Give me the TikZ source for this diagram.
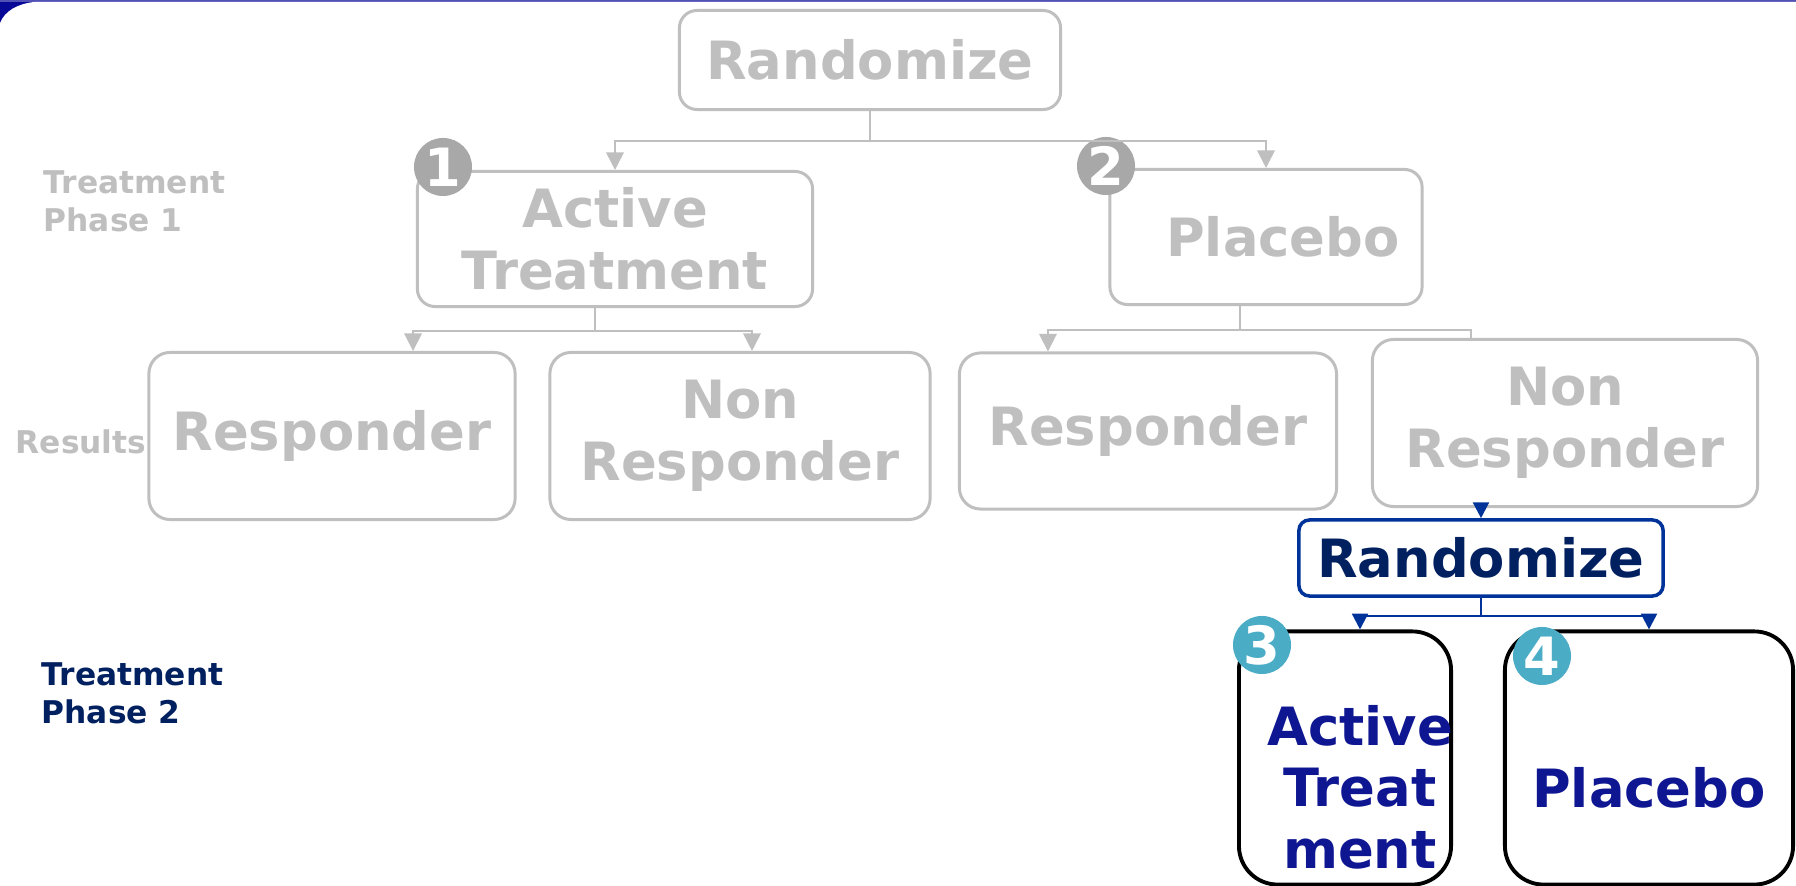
\documentclass[tikz,border=0pt]{standalone}
\usepackage{fontspec}
\setmainfont{DejaVu Sans}
\usetikzlibrary{arrows.meta}
\definecolor{lgray}{RGB}{191,191,191}
\definecolor{dgray}{RGB}{168,168,168}
\definecolor{teal}{RGB}{75,172,198}
\definecolor{navy}{RGB}{0,32,96}
\definecolor{rblue}{RGB}{0,51,153}
\definecolor{tblue}{RGB}{14,22,146}
\definecolor{framecol}{RGB}{8,8,150}
\newcommand{\boxfont}{\fontsize{15}{17.5}\selectfont\bfseries}
\newcommand{\sidefont}{\fontsize{8.9}{10.8}\selectfont\bfseries}
\newcommand{\numfont}{\fontsize{15}{15}\selectfont\bfseries}
\begin{document}
\begin{tikzpicture}[x=0.01cm, y=-0.01cm,
    graybox/.style={draw=lgray, line width=0.85pt, rounded corners=5pt, text=lgray, font=\boxfont, align=center, inner sep=0pt},
    bluebox/.style={draw=rblue, line width=1pt, rounded corners=3pt, text=navy, font=\boxfont, inner sep=0pt},
    blackbox/.style={draw=black, line width=1.1pt, rounded corners=11pt, inner sep=0pt},
    boxtext/.style={text=tblue, font=\boxfont, align=center, inner sep=0pt},
    num/.style={circle, fill=#1, text=white, font=\numfont, minimum size=0.58cm, inner sep=0pt},
    side/.style={font=\sidefont, align=left, anchor=west, inner sep=0pt},
    garrow/.style={draw=lgray, line width=0.5pt, -{Triangle[width=5pt,length=5pt]}},
    gline/.style={draw=lgray, line width=0.5pt},
    barrow/.style={draw=rblue, line width=0.7pt, -{Triangle[width=4.5pt,length=4.5pt]}}]
    \useasboundingbox (0,0) rectangle (1796,886);
    \clip (0,0) rectangle (1796,886);
    \fill[framecol] (0,0) rectangle (80,80);
    \fill[framecol!70] (0,0) rectangle (1796,2);
    \fill[white] (0,23) .. controls (5,11) and (17,4) .. (34,2)
        -- (1796,2) -- (1796,886) -- (0,886) -- cycle;

    \node[graybox, minimum width=3.81cm, minimum height=0.99cm] (R0) at (870,60) {Randomize};
    \node[graybox, minimum width=3.95cm, minimum height=1.35cm] (A1) at (615,239) {Active\\Treatment};
    \node[graybox, minimum width=3.12cm, minimum height=1.35cm] (P1) at (1266,237) {\hspace*{0.34cm}Placebo};

    \node[graybox, rounded corners=6pt, minimum width=3.66cm, minimum height=1.67cm] (AR1) at (332,436) {Responder};
    \node[graybox, rounded corners=6pt, minimum width=3.80cm, minimum height=1.67cm] (AN1) at (740,436) {Non\\Responder};
    \node[graybox, rounded corners=6pt, minimum width=3.77cm, minimum height=1.56cm] (PR1) at (1148,431) {Responder};
    \node[graybox, rounded corners=6pt, minimum width=3.85cm, minimum height=1.67cm] (PN1) at (1565,423) {Non\\Responder};

    \node[bluebox, minimum width=3.64cm, minimum height=0.76cm] (R2) at (1481,558) {Randomize};
    \node[blackbox, minimum width=2.12cm, minimum height=2.53cm] (A2) at (1345,758) {};
    \node[blackbox, minimum width=2.88cm, minimum height=2.53cm] (P2) at (1649,758) {};
    \node[boxtext] (A2t) at (1360,787) {Active\\Treat\\ment};
    \node[boxtext] (P2t) at (1649,788) {Placebo};

    \node[num=dgray] (C1) at (443,167) {1};
    \node[num=dgray] (C2) at (1106,166) {2};
    \node[num=teal] (C3) at (1262,645) {3};
    \node[num=teal] (C4) at (1542,656) {4};

    \node[side, text=lgray] (S1) at (43,201) {Treatment\\Phase 1};
    \node[side, text=lgray] (S2) at (15,442) {Results};
    \node[side, text=navy] (S3) at (41,693) {Treatment\\Phase 2};

    \draw[garrow] (R0.south) -- ++(0,30) -| (A1.north);
    \draw[garrow] (R0.south) -- ++(0,30) -| (P1.north);
    \draw[garrow] ([xshift=-0.2cm]A1.south) -- ++(0,23) -| ([xshift=0.81cm]AR1.north);
    \draw[garrow] ([xshift=-0.2cm]A1.south) -- ++(0,23) -| ([xshift=0.12cm]AN1.north);
    \draw[garrow] ([xshift=-0.26cm]P1.south) -- ++(0,24) -| ([xshift=-1cm]PR1.north);
    \draw[gline] ([xshift=-0.26cm]P1.south) -- ++(0,24) -| ([xshift=-0.94cm]PN1.north);
    \draw[barrow] (R2.north |- PN1.south) -- (R2.north);
    \draw[barrow] (R2.south) -- ++(0,18) -| ([xshift=0.15cm]A2.north);
    \draw[barrow] (R2.south) -- ++(0,18) -| (P2.north);
\end{tikzpicture}
\end{document}
